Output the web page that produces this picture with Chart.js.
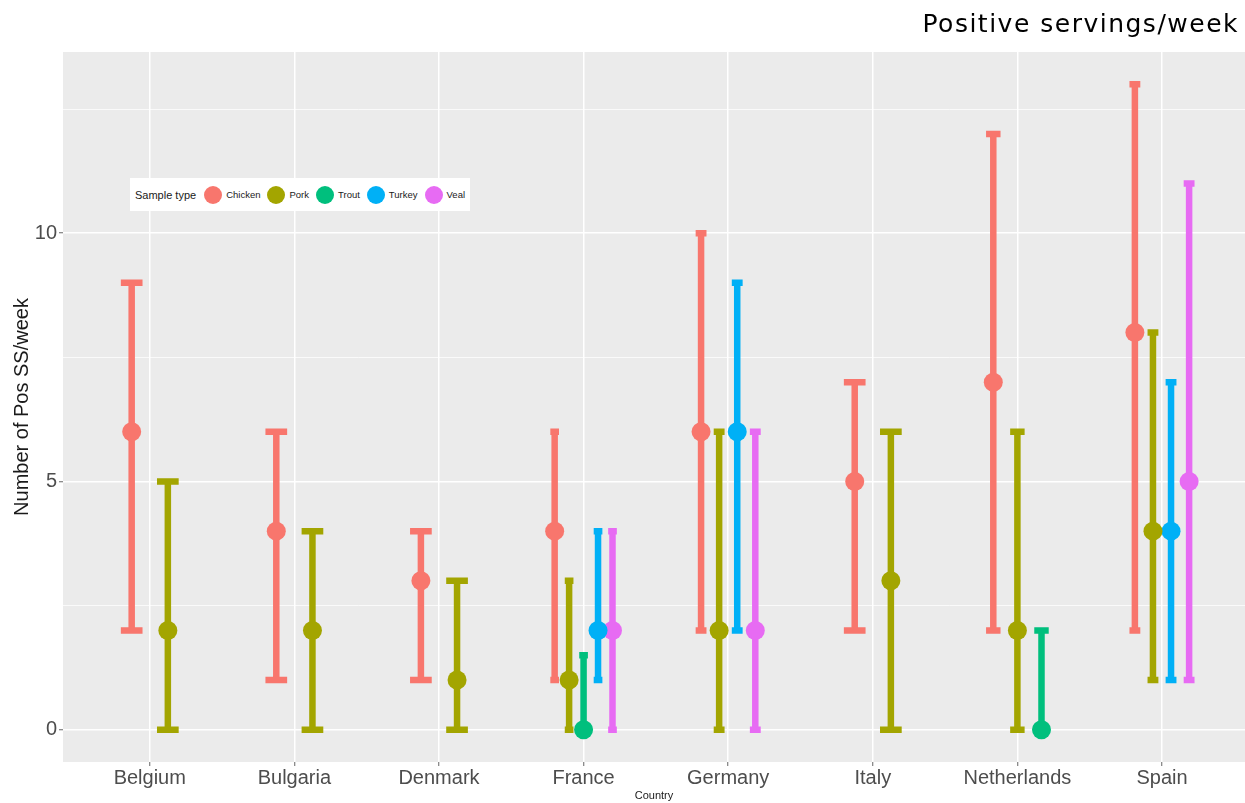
<!DOCTYPE html>
<html>
<head>
<meta charset="utf-8">
<script src="https://cdn.jsdelivr.net/npm/chart.js@4"></script>
<style>
  html, body { margin: 0; padding: 0; background: #fff; overflow: hidden; }
  #wrap { position: relative; width: 1245px; height: 803px; }
  #title {
    position: absolute; right: 6px; top: 9px;
    font: 25px 'DejaVu Sans', Verdana, sans-serif; color: #000;
    letter-spacing: 1.5px;
    white-space: nowrap;
  }
  #legend {
    position: absolute; left: 130px; top: 178px; width: 340px; height: 33px;
    background: #fff; display: flex; align-items: center;
    font-family: 'Liberation Sans', Arial, sans-serif; color: #1a1a1a;
  }
  #legend .head { font-size: 11px; margin: 0 6px 0 5px; }
  #legend .key { width: 18px; height: 18px; border-radius: 50%; margin: 0 4px 0 2px; }
  #legend .lab { font-size: 9.5px; margin-right: 5px; }
</style>
</head>
<body>
<div id="wrap">
  <canvas id="chart" width="1245" height="803"></canvas>
  <div id="title">Positive servings/week</div>
  <div id="legend"></div>
</div>
<script>
const countries = ['Belgium', 'Bulgaria', 'Denmark', 'France', 'Germany', 'Italy', 'Netherlands', 'Spain'];
const sampleTypes = ['Chicken', 'Pork', 'Trout', 'Turkey', 'Veal'];
const colours = ['#F8766D', '#A3A500', '#00BF7D', '#00B0F6', '#E76BF3'];

const chickenMid  = [6, 4, 3, 4, 6, 5, 7, 8];
const chickenLow  = [2, 1, 1, 1, 2, 2, 2, 2];
const chickenHigh = [9, 6, 4, 6, 10, 7, 12, 13];

const porkMid  = [2, 2, 1, 1, 2, 3, 2, 4];
const porkLow  = [0, 0, 0, 0, 0, 0, 0, 1];
const porkHigh = [5, 4, 3, 3, 6, 6, 6, 8];

const troutMid  = [null, null, null, 0, null, null, 0, null];
const troutLow  = [null, null, null, 0, null, null, 0, null];
const troutHigh = [null, null, null, 1.5, null, null, 2, null];

const turkeyMid  = [null, null, null, 2, 6, null, null, 4];
const turkeyLow  = [null, null, null, 1, 2, null, null, 1];
const turkeyHigh = [null, null, null, 4, 9, null, null, 7];

const vealMid  = [null, null, null, 2, 2, null, null, 5];
const vealLow  = [null, null, null, 0, 0, null, null, 1];
const vealHigh = [null, null, null, 4, 6, null, null, 11];

const yTicks = [0, 2.5, 5, 7.5, 10, 12.5];

const series = [
  { mid: chickenMid, low: chickenLow, high: chickenHigh },
  { mid: porkMid, low: porkLow, high: porkHigh },
  { mid: troutMid, low: troutLow, high: troutHigh },
  { mid: turkeyMid, low: turkeyLow, high: turkeyHigh },
  { mid: vealMid, low: vealLow, high: vealHigh }
];

// ggplot style dodge: groups present in a country share 0.5 of the slot
const dodgeWidth = 0.5;
const capWidth = 0.3;

function groupsAt(i) {
  return series.filter(s => s.mid[i] !== null).length;
}

function rankAt(si, i) {
  return series.slice(0, si).filter(s => s.mid[i] !== null).length;
}

function dodgedX(si, i) {
  const n = groupsAt(i);
  return i - dodgeWidth / 2 + (rankAt(si, i) + 0.5) * dodgeWidth / n;
}

const pointSets = [];
const barSets = [];

series.forEach((s, si) => {
  const points = [];
  const bars = [];
  s.mid.forEach((m, i) => {
    if (m === null) return;
    const x = dodgedX(si, i);
    const half = capWidth / groupsAt(i) / 2;
    points.push({ x: x, y: m });
    bars.push({ x: x, y: s.low[i] }, { x: x, y: s.high[i] }, { x: x, y: null });
    bars.push({ x: x - half, y: s.high[i] }, { x: x + half, y: s.high[i] }, { x: x, y: null });
    bars.push({ x: x - half, y: s.low[i] }, { x: x + half, y: s.low[i] }, { x: x, y: null });
  });
  barSets.push({
    type: 'line',
    label: sampleTypes[si] + ' range',
    data: bars,
    borderColor: colours[si],
    borderWidth: 6.5,
    borderCapStyle: 'butt',
    pointRadius: 0,
    spanGaps: false,
    fill: false,
    order: 2
  });
  pointSets.push({
    type: 'scatter',
    label: sampleTypes[si],
    data: points,
    backgroundColor: colours[si],
    borderWidth: 0,
    pointRadius: 9.5,
    order: 1
  });
});

const panelBackground = {
  id: 'panelBackground',
  beforeDraw(chart) {
    const a = chart.chartArea;
    const ctx = chart.ctx;
    ctx.save();
    ctx.fillStyle = '#EBEBEB';
    ctx.fillRect(a.left, a.top, a.right - a.left, a.bottom - a.top);
    ctx.restore();
  }
};

const legendBox = document.getElementById('legend');
legendBox.innerHTML = '<span class="head">Sample type</span>' +
  sampleTypes.map((t, i) =>
    `<span class="key" style="background:${colours[i]}"></span><span class="lab">${t}</span>`
  ).join('');

new Chart(document.getElementById('chart'), {
  data: { datasets: barSets.concat(pointSets) },
  plugins: [panelBackground],
  options: {
    responsive: false,
    animation: false,
    devicePixelRatio: 1,
    layout: { autoPadding: false, padding: { top: 52, left: 0, right: 0, bottom: 0 } },
    plugins: {
      legend: { display: false },
      tooltip: { enabled: false },
      title: { display: false }
    },
    scales: {
      x: {
        type: 'linear',
        min: -0.6,
        max: 7.574,
        afterFit(scale) {
          scale.height = 41;
          scale.paddingLeft = 0;
          scale.paddingRight = 0;
        },
        afterBuildTicks(scale) { scale.ticks = countries.map((c, i) => ({ value: i })); },
        ticks: {
          autoSkip: false,
          maxRotation: 0,
          padding: 0,
          color: '#4D4D4D',
          font: { family: "'Liberation Sans', Arial, sans-serif", size: 20 },
          callback: v => countries[v]
        },
        grid: { color: '#FFFFFF', lineWidth: 1.5, tickLength: 4, tickColor: '#666', tickWidth: 1 },
        border: { display: false },
        title: {
          display: true,
          text: 'Country',
          color: '#1a1a1a',
          padding: { top: 0, bottom: 0 },
          font: { family: "'Liberation Sans', Arial, sans-serif", size: 11 }
        }
      },
      y: {
        type: 'linear',
        min: -0.65,
        max: 13.65,
        afterFit(scale) {
          scale.width = 63;
          scale.paddingTop = 0;
          scale.paddingBottom = 0;
        },
        afterBuildTicks(scale) { scale.ticks = yTicks.map(v => ({ value: v })); },
        ticks: {
          padding: 2,
          color: '#4D4D4D',
          font: { family: "'Liberation Sans', Arial, sans-serif", size: 20 },
          callback: v => (v % 5 === 0 ? String(v) : '')
        },
        grid: {
          color: '#FFFFFF',
          lineWidth: ctx => (ctx.tick && ctx.tick.value % 5 === 0 ? 1.5 : 0.75),
          tickLength: 4,
          tickWidth: 1,
          tickColor: ctx => (ctx.tick && ctx.tick.value % 5 === 0 ? '#666' : 'rgba(0,0,0,0)')
        },
        border: { display: false },
        title: {
          display: true,
          text: 'Number of Pos SS/week',
          color: '#1a1a1a',
          padding: { top: 10, bottom: 0 },
          font: { family: "'Liberation Sans', Arial, sans-serif", size: 20 }
        }
      }
    }
  }
});
</script>
</body>
</html>
